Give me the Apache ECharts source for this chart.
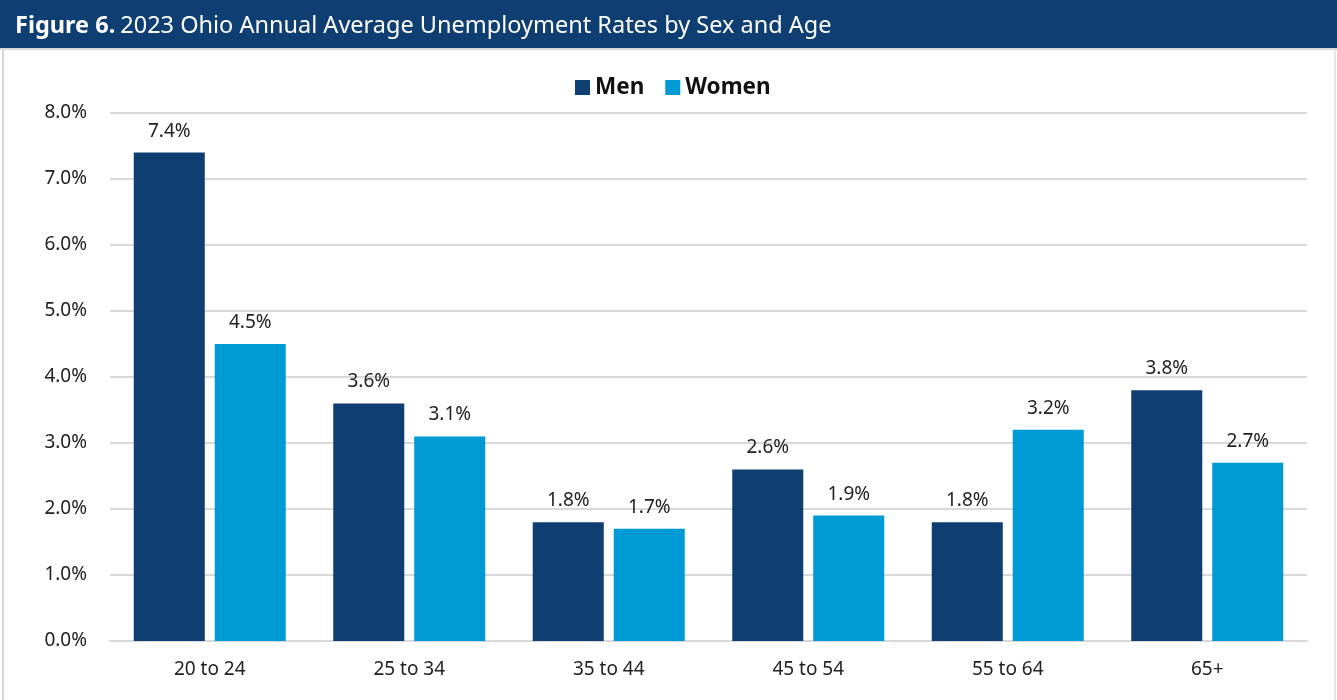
<!DOCTYPE html>
<html>
<head>
<meta charset="utf-8">
<script src="https://cdn.jsdelivr.net/npm/echarts@6/dist/echarts.min.js"></script>
<style>
  html, body { margin: 0; padding: 0; background: #fff; }
  #chart { width: 1337px; height: 700px; }
</style>
</head>
<body>
<div id="chart"></div>
<script>
// Age groups and annual average unemployment rates (%), 2023
const ageGroups = ['20 to 24', '25 to 34', '35 to 44', '45 to 54', '55 to 64', '65+'];
const menRates = [7.4, 3.6, 1.8, 2.6, 1.8, 3.8];
const womenRates = [4.5, 3.1, 1.7, 1.9, 3.2, 2.7];
const seriesNames = ['Men', 'Women'];

const NAVY = '#0f3e73';
const BLUE = '#009ad5';
const labelFont = '"Noto Sans", "Open Sans", sans-serif';
const LABEL_SIZE = 19;

const chart = echarts.init(document.getElementById('chart'));

const pct = v => v.toFixed(1) + '%';

chart.setOption({
  animation: false,
  backgroundColor: '#ffffff',
  graphic: [
    // header band
    { type: 'rect', shape: { x: 0, y: 0, width: 1337, height: 48 }, style: { fill: NAVY }, z: 0 },
    { type: 'rect', shape: { x: 0, y: 48, width: 1337, height: 2 }, style: { fill: '#d9d9d9' }, z: 0 },
    // frame sides
    { type: 'rect', shape: { x: 2, y: 50, width: 2, height: 650 }, style: { fill: '#d9d9d9' }, z: 0 },
    { type: 'rect', shape: { x: 1334, y: 50, width: 2, height: 650 }, style: { fill: '#e6e6e6' }, z: 0 }
  ],
  title: {
    left: 10,
    top: 9,
    text: '{b|Figure 6.} {n|2023 Ohio Annual Average Unemployment Rates by Sex and Age}',
    textStyle: {
      rich: {
        b: { color: '#fff', fontSize: 23.5, fontWeight: 'bold', fontFamily: '"Noto Sans", sans-serif' },
        n: { color: '#fff', fontSize: 23.5, fontWeight: 'normal', fontFamily: '"Noto Sans", sans-serif' }
      }
    }
  },
  legend: {
    top: 71,
    left: 570,
    itemWidth: 15,
    itemHeight: 15,
    itemGap: 21,
    icon: 'rect',
    textStyle: { fontSize: 22.5, fontWeight: 'bold', color: '#111', fontFamily: labelFont },
    data: seriesNames
  },
  grid: { left: 110, right: 30, top: 113, bottom: 59 },
  xAxis: {
    type: 'category',
    data: ageGroups,
    axisTick: { show: false },
    axisLine: { lineStyle: { color: '#d9d9d9', width: 2 } },
    axisLabel: { color: '#222', fontSize: LABEL_SIZE, margin: 19, fontFamily: labelFont }
  },
  yAxis: {
    type: 'value',
    min: 0,
    max: 8,
    interval: 1,
    axisLine: { show: false },
    axisTick: { show: false },
    splitLine: { lineStyle: { color: '#d9d9d9', width: 2 } },
    axisLabel: { color: '#222', fontSize: LABEL_SIZE, margin: 23, fontFamily: labelFont, formatter: v => pct(v) }
  },
  series: [
    {
      name: seriesNames[0],
      type: 'bar',
      data: menRates,
      barWidth: '35.6%',
      barGap: '14%',
      itemStyle: { color: NAVY },
      label: { show: true, position: 'top', distance: 12, color: '#222', fontSize: LABEL_SIZE, fontFamily: labelFont, formatter: p => pct(p.value) }
    },
    {
      name: seriesNames[1],
      type: 'bar',
      data: womenRates,
      barWidth: '35.6%',
      itemStyle: { color: BLUE },
      label: { show: true, position: 'top', distance: 12, color: '#222', fontSize: LABEL_SIZE, fontFamily: labelFont, formatter: p => pct(p.value) }
    }
  ]
});
</script>
</body>
</html>
